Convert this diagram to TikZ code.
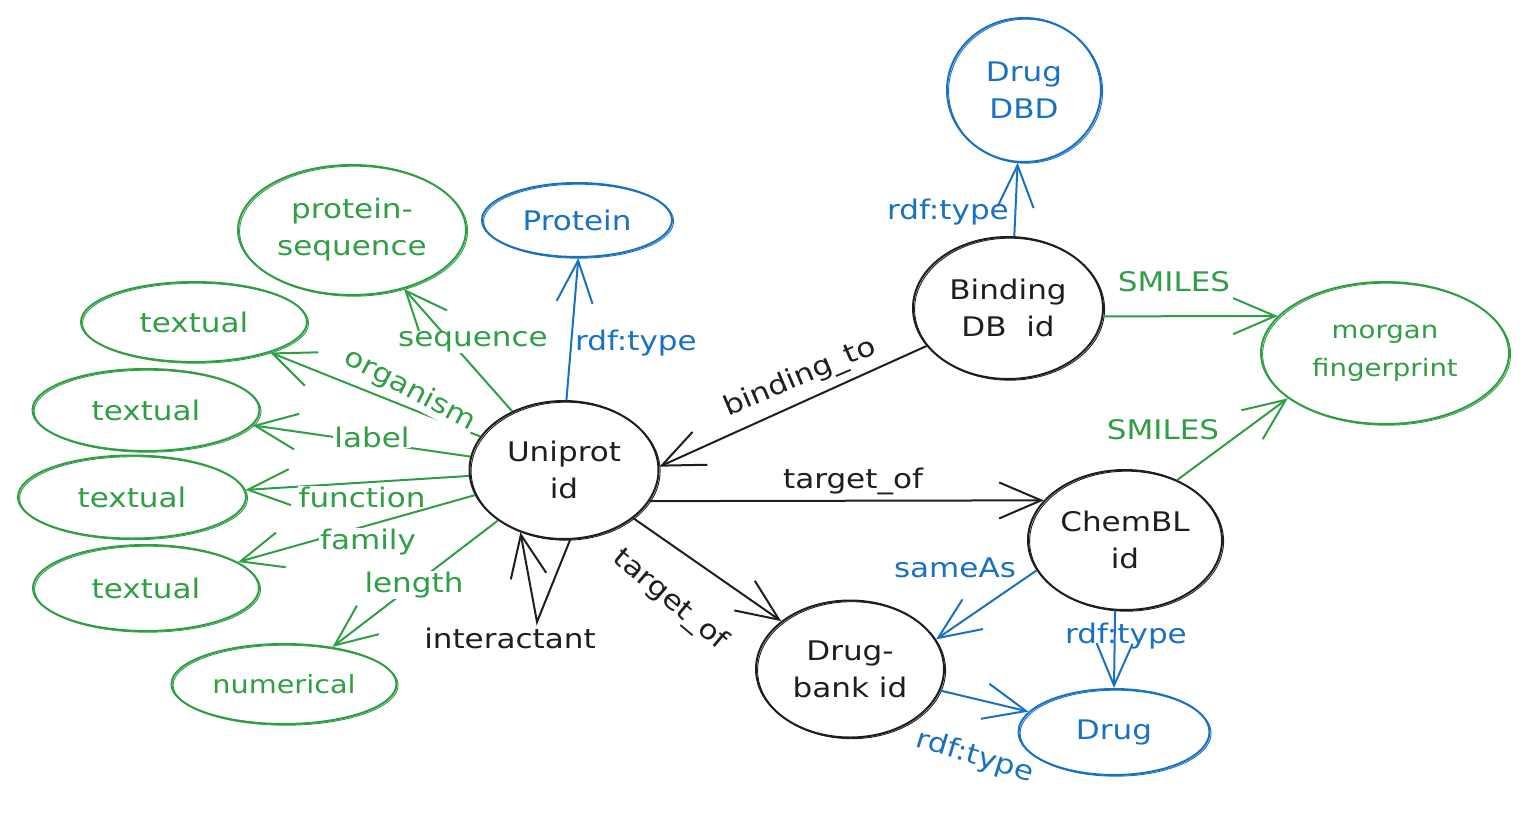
\documentclass[tikz,border=0pt]{standalone}
\usepackage{fontspec}
\setmainfont[FakeStretch=1.15]{DejaVu Sans}
\usetikzlibrary{shapes.geometric,arrows.meta}
\definecolor{cgreen}{HTML}{2F9E44}
\definecolor{cblue}{HTML}{1971C2}
\definecolor{cblack}{HTML}{1E1E1E}
\tikzset{
  ell/.style={ellipse, draw, line width=2pt, inner sep=0pt, align=center,
    font=\fontsize{27}{37}\selectfont,
    postaction={draw, line width=0.9pt, transform canvas={xshift=1.6pt,yshift=-1.2pt}}},
  gell/.style={ell, draw=cgreen, text=cgreen},
  bell/.style={ell, draw=cblue, text=cblue},
  kell/.style={ell, draw=cblack, text=cblack},
  conn/.style={line width=2pt, -{Straight Barb[length=42pt,width=36pt]}},
  gar/.style={conn, cgreen},
  bar/.style={conn, cblue},
  kar/.style={conn, cblack},
  lab/.style={fill=white, inner sep=1pt, font=\fontsize{27}{30}\selectfont},
  glab/.style={lab, text=cgreen},
  blab/.style={lab, text=cblue},
  klab/.style={lab, text=cblack}
}
\begin{document}
\begin{tikzpicture}[x=1pt,y=-1pt]
\useasboundingbox (0,0) rectangle (1531,814);
% nodes
\node[bell, minimum width=154, minimum height=144] (dbd) at (1024,90) {Drug\\DBD};
\node[bell, minimum width=190, minimum height=74] (prot) at (577,220) {Protein};
\node[gell, minimum width=228, minimum height=130] (seq) at (352,230) {protein-\\sequence};
\node[gell, minimum width=226, minimum height=80] (t1) at (194,322) {textual};
\node[gell, minimum width=227, minimum height=82] (t2) at (146,410) {textual};
\node[gell, minimum width=228, minimum height=83] (t3) at (132,497) {textual};
\node[gell, minimum width=226, minimum height=86] (t4) at (146,588) {textual};
\node[gell, minimum width=225, minimum height=80, font=\fontsize{25}{30}\selectfont] (num) at (284,684) {numerical};
\node[kell, minimum width=189, minimum height=138] (uni) at (564,470) {Uniprot\\id};
\node[kell, minimum width=190, minimum height=142] (bind) at (1008,308) {Binding\\DB\ \ id};
\node[gell, minimum width=248, minimum height=142, font=\fontsize{24}{38}\selectfont] (morgan) at (1385,353) {morgan\\fingerprint};
\node[kell, minimum width=194, minimum height=140] (chembl) at (1125,540) {ChemBL\\id};
\node[kell, minimum width=188, minimum height=137] (dbank) at (850,669) {Drug-\\bank id};
\node[bell, minimum width=191, minimum height=86] (drug) at (1114,732) {Drug};
\coordinate (lp) at (537,622);
% connectors
\draw[bar] (uni.88) -- (prot.-88);
\draw[gar] (uni) -- (seq);
\draw[gar] (uni) -- (t1);
\draw[gar] (uni) -- (t2);
\draw[gar] (uni) -- (t3);
\draw[gar] (uni) -- (t4);
\draw[gar] (uni) -- (num);
\draw[kar] (uni.-85) -- (lp) -- (uni.-125);
\draw[kar] (bind.205) -- (uni.2);
\draw[kar] (uni.-20) -- (chembl.154);
\draw[kar] (uni) -- (dbank);
\draw[bar] (bind.85) -- (dbd.-95);
\draw[gar] (bind.-5) -- (morgan.161);
\draw[gar] (chembl.49) -- (morgan.205);
\draw[bar] (chembl.199) -- (dbank.19);
\draw[bar] (chembl.-98) -- (drug.90);
\draw[bar] (dbank) -- (drug);
% labels
\node[blab, fill=none] (l1) at (636,343) {rdf:type};
\node[glab] (l2) at (473,342) {sequence};
\node[glab, rotate=-28] (l3) at (410,390) {organism};
\node[glab] (l4) at (372,437) {label};
\node[glab] (l5) at (362,497) {function};
\node[glab] (l6) at (368,542) {family};
\node[glab] (l7) at (414,585) {length};
\node[klab, fill=none] (l8) at (510,638) {interactant};
\node[klab, fill=none, rotate=23] (l9) at (800,378) {binding\_to};
\node[klab, fill=none] (l10) at (853,481) {target\_of};
\node[klab, fill=none, rotate=-40] (l11) at (670,600) {target\_of};
\node[blab, fill=none] (l12) at (948,212) {rdf:type};
\node[glab, fill=none] (l13) at (1174,282) {SMILES};
\node[glab, fill=none] (l14) at (1163,430) {SMILES};
\node[blab, fill=none] (l15) at (955,568) {sameAs};
\node[blab, fill=none] (l16) at (1126,636) {rdf:type};
\node[blab, fill=none, rotate=-17] (l17) at (975,757) {rdf:type};
\end{tikzpicture}
\end{document}
